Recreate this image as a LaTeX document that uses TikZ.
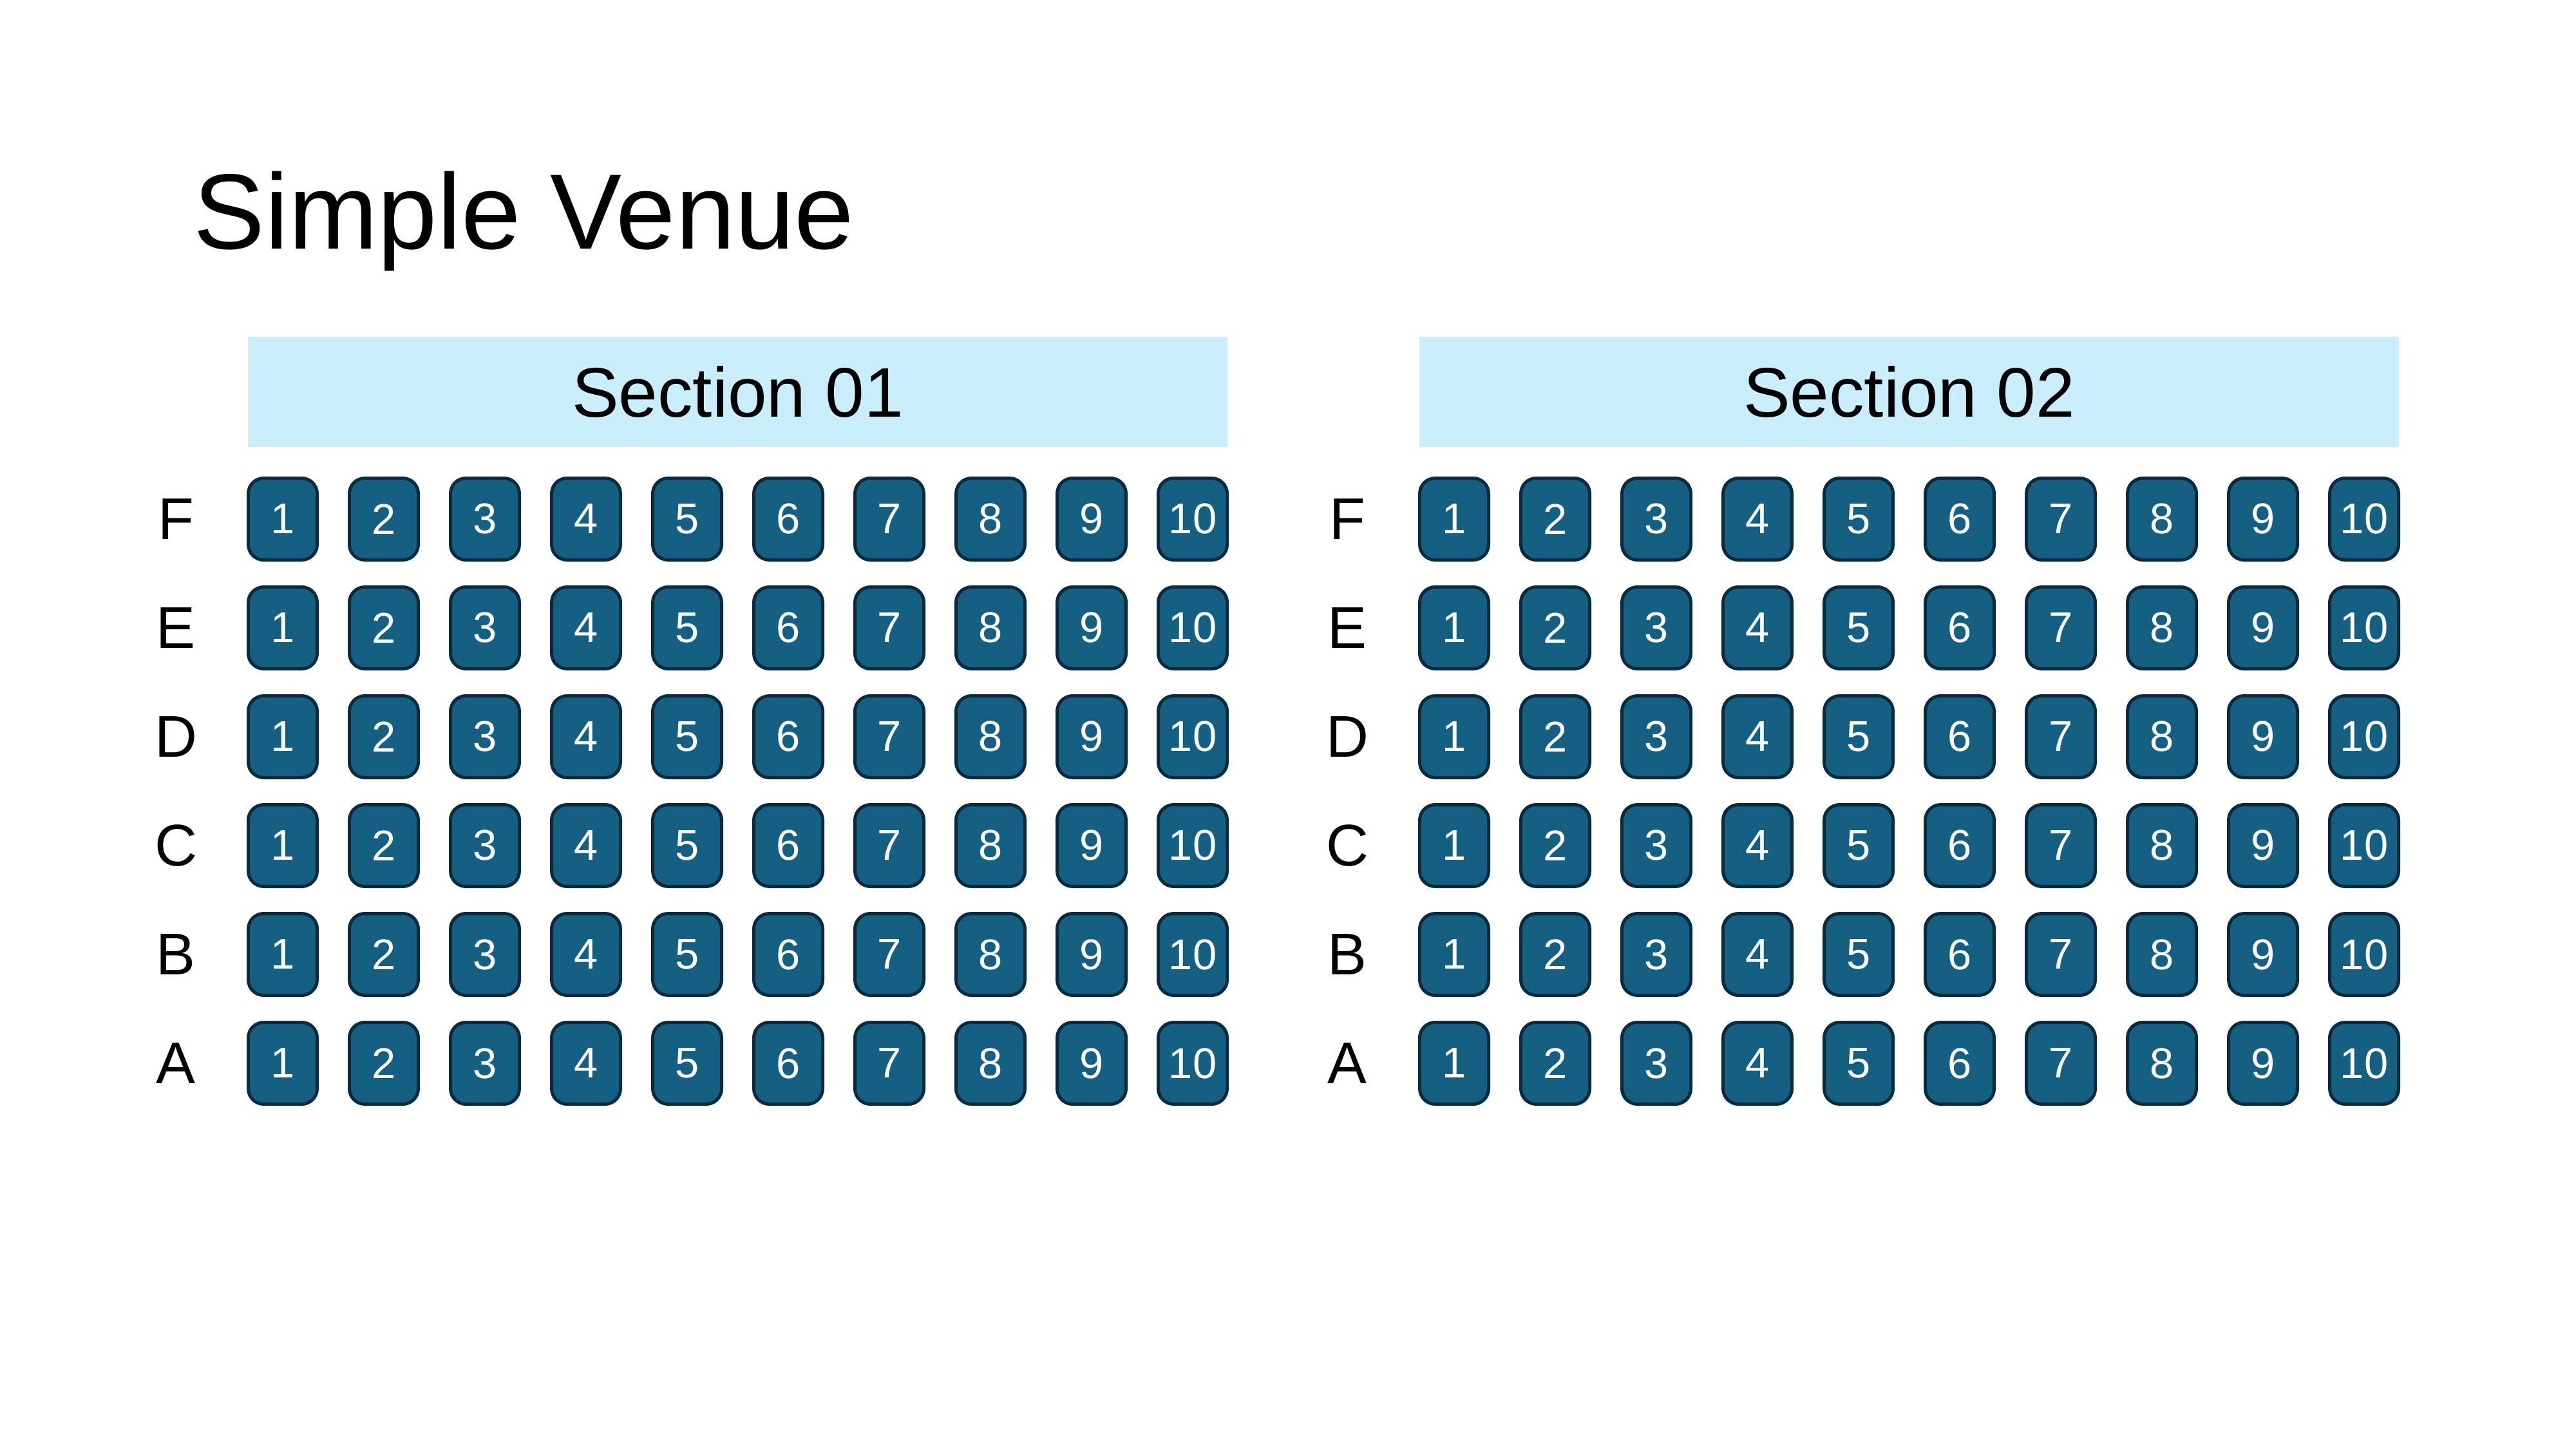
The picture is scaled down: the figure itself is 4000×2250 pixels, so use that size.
\documentclass[tikz,border=0pt]{standalone}
\usepackage{fontspec}
\setmainfont{Liberation Sans}
\usetikzlibrary{positioning}
\definecolor{SeatBlue}{HTML}{156082}
\definecolor{SeatEdge}{HTML}{0A2B3D}
\definecolor{HeadBlue}{HTML}{CAEEFB}
\tikzset{
  seatbox/.style={rectangle, rounded corners=2.4mm, draw=SeatEdge, fill=SeatBlue,
                  line width=0.5mm, minimum width=10.7mm, minimum height=12.7mm,
                  inner sep=0pt, text=white, font=\fontsize{19}{19}\selectfont},
  headbox/.style={rectangle, fill=HeadBlue, minimum width=152.1mm,
                  minimum height=17.1mm, inner sep=0pt,
                  font=\fontsize{31}{31}\selectfont},
  rowlabel/.style={inner sep=0pt, font=\fontsize{26}{26}\selectfont},
}
\begin{document}
\begin{tikzpicture}[x=0.1mm, y=-0.1mm]
  \useasboundingbox (0,0) rectangle (4000,2250);
  \node[anchor=base west, inner sep=0pt, font=\fontsize{47.3}{47.3}\selectfont]
    (title) at (300,387) {Simple Venue};
  % two sections, six rows of ten seats each
  \foreach \sec/\dx in {1/0, 2/1819} {
    \node[headbox] (sec\sec) at ({1145.5+\dx},608.5) {Section 0\sec};
    \foreach \r [count=\i from 0] in {F,E,D,C,B,A} {
      \node[rowlabel] (row\sec\r) at ({273+\dx},{806+169*\i}) {\r};
      \foreach \c in {1,...,10}
        \node[seatbox] (s\sec\r\c) at ({439+157*(\c-1)+\dx},{806+169*\i}) {\c};
    }
  }
\end{tikzpicture}
\end{document}
